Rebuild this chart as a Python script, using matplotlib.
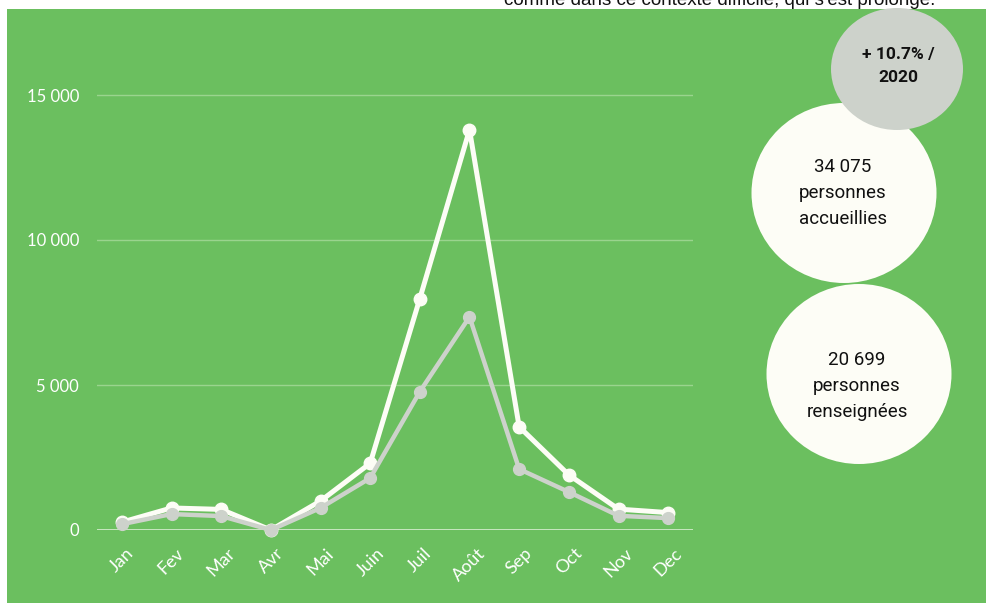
import matplotlib
matplotlib.use("Agg")
import matplotlib.pyplot as plt
from matplotlib.patches import Ellipse, Rectangle

# monthly data
months = ['Jan', 'Fev', 'Mar', 'Avr', 'Mai', 'Juin', 'Juil', 'Août', 'Sep', 'Oct', 'Nov', 'Dec']
accueillies = [270, 760, 710, 0, 1000, 2300, 7980, 13800, 3560, 1900, 720, 600]
renseignees = [200, 550, 480, 0, 760, 1790, 4770, 7350, 2100, 1310, 490, 410]
yticks = [0, 5000, 10000, 15000]
ytick_labels = ['0', '5 000', '10 000', '15 000']

GREEN = '#6BBF5F'
WHITE = '#FDFDF6'
GREY = '#CDD2CB'

fig = plt.figure(figsize=(9.86, 6.03), dpi=100)
fig.patch.set_facecolor('white')

# green panel
fig.add_artist(Rectangle((7 / 986, 0), 1 - 7 / 986, 1 - 9 / 603,
                         transform=fig.transFigure, facecolor=GREEN,
                         edgecolor='none', zorder=0))

# cut-off caption at the top
fig.text(720 / 986, 1 - 5 / 603, "comme dans ce contexte difficile, qui s'est prolongé.",
         ha='center', va='baseline', fontsize=13.5, family='Liberation Sans',
         color='#111111', zorder=5)

ax = fig.add_axes([97 / 986, 73 / 603, 596 / 986, 464 / 603])
ax.set_facecolor('none')
x = range(len(months))
ax.plot(x, accueillies, color=WHITE, lw=3.6, marker='o', markersize=9,
        clip_on=False, zorder=3)
ax.plot(x, renseignees, color=GREY, lw=3.2, marker='o', markersize=8.5,
        clip_on=False, zorder=4)

ax.set_xlim(-0.5, 11.5)
ax.set_ylim(0, 16000)
ax.set_yticks(yticks)
ax.set_yticklabels(ytick_labels)
ax.set_xticks(list(x))
ax.set_xticklabels(months, rotation=45, ha='center')
for s in ax.spines.values():
    s.set_visible(False)
ax.tick_params(length=0, colors='white')
ax.tick_params(axis='y', pad=13, labelsize=12)
ax.tick_params(axis='x', pad=11, labelsize=13)
for lab in ax.get_xticklabels() + ax.get_yticklabels():
    lab.set_family('Lato')
ax.grid(axis='y', color='#9AD48E', lw=1)
ax.axhline(0, color='#D6ECCF', lw=1.2, zorder=2)
ax.set_axisbelow(True)

# overlay in pixel coords for the bubbles
ov = fig.add_axes([0, 0, 1, 1], zorder=10)
ov.set_xlim(0, 986)
ov.set_ylim(603, 0)
ov.axis('off')
ov.patch.set_alpha(0)

ov.add_patch(Ellipse((844, 193), 185, 180, facecolor=WHITE, edgecolor='none'))
ov.add_patch(Ellipse((859, 374), 185, 180, facecolor=WHITE, edgecolor='none'))
ov.add_patch(Ellipse((897, 69), 132, 122, facecolor=GREY, edgecolor='none'))

ov.text(898, 66, '+ 10.7% /\n2020', ha='center', va='center', fontsize=12.5,
        fontweight='bold', family='Roboto', color='#111111', linespacing=1.6)
ov.text(843, 193, '34 075\npersonnes\naccueillies', ha='center', va='center',
        fontsize=13.5, family='Roboto', color='#111111', linespacing=1.55)
ov.text(857, 386, '20 699\npersonnes\nrenseignées', ha='center', va='center',
        fontsize=13.5, family='Roboto', color='#111111', linespacing=1.55)

fig.savefig('out.png', dpi=100, facecolor=fig.get_facecolor())
